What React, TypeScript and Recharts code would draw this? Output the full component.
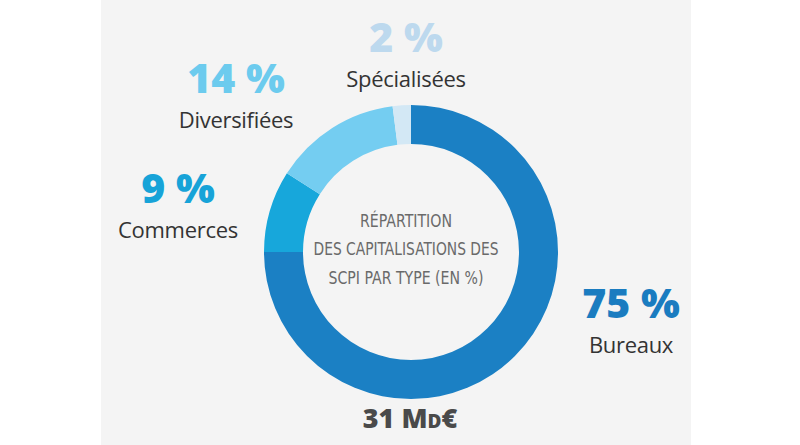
import React from 'react';
import { PieChart, Pie, Cell, Customized } from 'recharts';

// Data
const TYPES = ['Bureaux', 'Commerces', 'Diversifiées', 'Spécialisées'];
const SHARES = [75, 9, 14, 2];
const TOTAL_LABEL = '31 Md€';
const CENTER_LINES = ['RÉPARTITION', 'DES CAPITALISATIONS DES', 'SCPI PAR TYPE (EN %)'];

// Styles
const SLICE_COLORS = ['#1b80c4', '#17a7db', '#74cdf1', '#d3e8f5'];
const PCT_COLORS = ['#1a7cc0', '#17a3d8', '#6ccbee', '#bdd9ee'];
const BG = '#f4f4f4';
const CX = 406;
const CY = 247;

// label offsets from the pie centre (x, baseline of % , baseline of name)
const LABEL_OFFSETS = [
  { dx: 220, pctY: 66, nameY: 101 },
  { dx: -233, pctY: -49, nameY: -14 },
  { dx: -175, pctY: -159, nameY: -124 },
  { dx: -5, pctY: -200, nameY: -165 },
];

const chartData = TYPES.map((name, i) => ({ name, value: SHARES[i] }));

function renderLabel(props: any) {
  const { cx, cy, index, value, name } = props;
  const off = LABEL_OFFSETS[index];
  const x = cx + off.dx;
  return (
    <g key={`lbl-${index}`}>
      <text
        x={x}
        y={cy + off.pctY}
        textAnchor="middle"
        fill={PCT_COLORS[index]}
        fontFamily="'Open Sans', sans-serif"
        fontWeight={800}
        fontSize={41}
      >
        {`${value} %`}
      </text>
      <text
        x={x}
        y={cy + off.nameY}
        textAnchor="middle"
        fill="#333"
        fontFamily="'Open Sans', sans-serif"
        fontSize={22}
        letterSpacing={-0.3}
      >
        {name}
      </text>
    </g>
  );
}

function CenterText() {
  const widths = [92, 185, 155];
  const baselines = [-20, 8, 37];
  return (
    <g>
      {CENTER_LINES.map((line, i) => (
        <text
          key={line}
          x={CX}
          y={CY + baselines[i]}
          textAnchor="middle"
          fill="#6a6a6a"
          fontFamily="'Liberation Sans Narrow', 'DejaVu Sans Condensed', sans-serif"
          fontSize={17}
          textLength={widths[i]}
          lengthAdjust="spacingAndGlyphs"
        >
          {line}
        </text>
      ))}
      <text
        x={CX + 4}
        y={428}
        textAnchor="middle"
        fill="#4a4a4a"
        fontFamily="'Open Sans', sans-serif"
        fontWeight={800}
        fontSize={27}
        style={{ fontVariant: 'small-caps' }}
      >
        {TOTAL_LABEL}
      </text>
    </g>
  );
}

export default function App() {
  return (
    <div style={{ position: 'absolute', left: 0, top: 0, width: 800, height: 445, background: '#fff' }}>
      <div style={{ position: 'absolute', left: 101, top: 0, width: 590, height: 445, background: BG }} />
      <div style={{ position: 'absolute', left: 0, top: 0 }}>
        <PieChart width={800} height={445}>
          <Pie
            data={chartData}
            dataKey="value"
            nameKey="name"
            cx={CX}
            cy={CY}
            innerRadius={108}
            outerRadius={147}
            startAngle={90}
            endAngle={-270}
            stroke="none"
            label={renderLabel}
            labelLine={false}
            isAnimationActive={false}
          >
            {chartData.map((d, i) => (
              <Cell key={d.name} fill={SLICE_COLORS[i]} />
            ))}
          </Pie>
          <Customized component={CenterText} />
        </PieChart>
      </div>
    </div>
  );
}
